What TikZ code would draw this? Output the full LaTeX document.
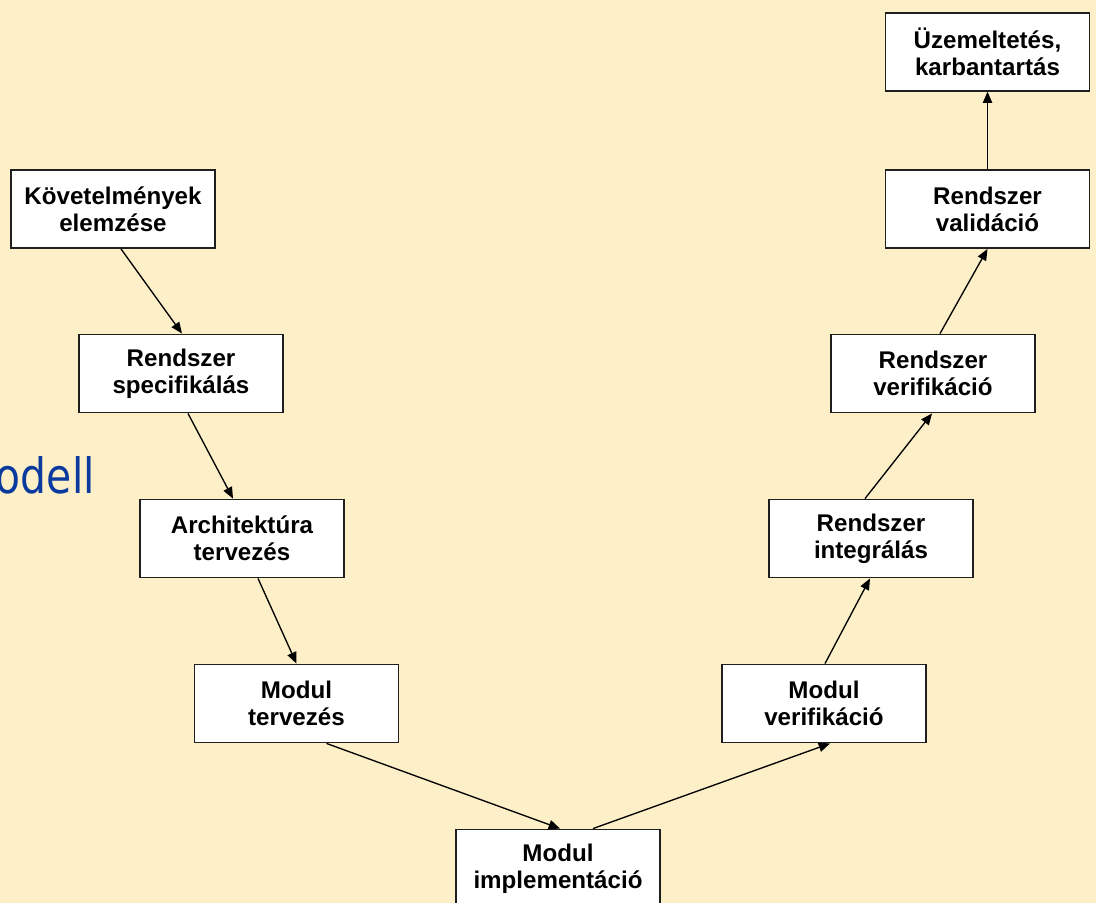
\documentclass[tikz,border=0pt]{standalone}
\usepackage{graphicx}
\usepackage{fontspec}
\setmainfont{Liberation Sans}
\newfontfamily\headfont{DejaVu Sans}
\usetikzlibrary{arrows.meta,calc}
\definecolor{pagebg}{HTML}{FDEFC8}
\definecolor{headblue}{HTML}{0A3A9E}
\begin{document}
\begin{tikzpicture}[x=0.75pt,y=-0.75pt,
  stage/.style={draw=black!88, line width=1.4pt, fill=white, inner sep=0pt,
    align=center, minimum width=153pt, minimum height=58.5pt,
    font=\bfseries\fontsize{18.1}{20.3}\selectfont},
  flow/.style={-{Triangle[length=8.5pt,width=7pt]}, line width=1pt}]
% page background
\fill[pagebg] (0,0) rectangle (1096,903);
\useasboundingbox (0,0) rectangle (1096,903);

% heading fragment
\node[anchor=base east, inner sep=0pt, text=headblue,
  font=\headfont\fontsize{36.5}{40}\selectfont] (head) at (95,493)
  {\scalebox{0.84}[1]{odell}};

% left branch
\node[stage] (req)  at (113,209)     {Követelmények\\elemzése};
\node[stage] (spec) at (181,373.5)   {Rendszer\\specifikálás};
\node[stage] (arch) at (242,538.5)   {Architektúra\\tervezés};
\node[stage] (mdes) at (296.5,703.5) {Modul\\tervezés};
% bottom
\node[stage] (impl) at (558,868.5)   {Modul\\implementáció};
% right branch
\node[stage] (mver)  at (824,703.5)  {Modul\\verifikáció};
\node[stage] (integ) at (871,538.5)  {Rendszer\\integrálás};
\node[stage] (sver)  at (933,373.5)  {Rendszer\\verifikáció};
\node[stage] (sval)  at (987.5,209)  {Rendszer\\validáció};
\node[stage] (ops)   at (987.5,51.7) {Üzemeltetés,\\karbantartás};

% connectors
\draw[flow] ([xshift=6pt]req.south)     -- ([xshift=0.75pt]spec.north);
\draw[flow] ([xshift=5.25pt]spec.south) -- ([xshift=-6.75pt]arch.north);
\draw[flow] ([xshift=12pt]arch.south)   -- (mdes.north);
\draw[flow] ([xshift=22.5pt]mdes.south) -- ([xshift=1.5pt]impl.north);
\draw[flow] ([xshift=26.25pt]impl.north) -- ([xshift=4.5pt]mver.south);
\draw[flow] ([xshift=0.75pt]mver.north) -- ([xshift=-0.75pt]integ.south);
\draw[flow] ([xshift=-4.5pt]integ.north) -- ([xshift=-0.75pt]sver.south);
\draw[flow] ([xshift=5.25pt]sver.north) -- (sval.south);
\draw[flow] (sval.north) -- (ops.south);
\end{tikzpicture}
\end{document}
